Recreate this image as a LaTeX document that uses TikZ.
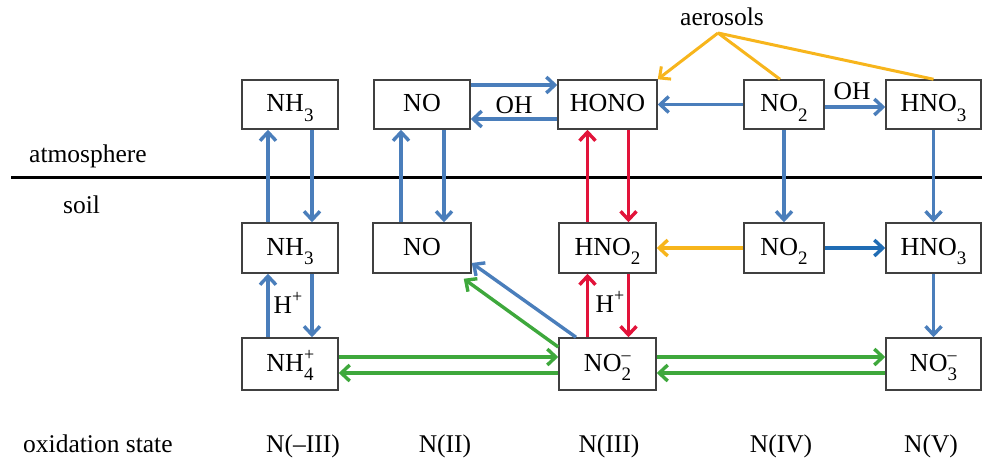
\documentclass[tikz,border=0pt]{standalone}
\usepackage{fontspec}
\setmainfont{Liberation Serif}
\usetikzlibrary{arrows.meta}

\definecolor{cblue}{HTML}{4A7EBB}
\definecolor{cdblue}{HTML}{1F6CB4}
\definecolor{cred}{HTML}{E2133A}
\definecolor{cgreen}{HTML}{3EA83C}
\definecolor{corange}{HTML}{F7B51C}
\definecolor{boxgray}{HTML}{404040}

% chemical sub- and superscripts
\newcommand\chsub[1]{\raisebox{-0.38em}{\fontsize{19}{19}\selectfont #1}}
\newcommand\chsup[1]{\raisebox{0.40em}{\fontsize{18}{18}\selectfont #1}}
\newcommand\chion[2]{\makebox[0pt][l]{\chsup{#1}}\chsub{#2}}

\tikzset{
  box/.style={draw=boxgray, line width=1.5pt, fill=white, inner sep=0pt,
    text height=17pt, text depth=3pt, font=\fontsize{26}{30}\selectfont},
  lbl/.style={inner sep=0pt, font=\fontsize{25.5}{30}\selectfont},
  tip/.style={-{Straight Barb[length=8.5pt,width=16pt]}},
  flow/.style={line width=3.4pt, tip},
  aline/.style={corange, line width=3pt},
}

\begin{document}
\begin{tikzpicture}[x=1pt,y=-1pt]
\useasboundingbox (0,0) rectangle (982,459);

% atmosphere / soil boundary
\coordinate (bl) at (11,177);
\coordinate (br) at (982,177);
\draw[line width=3pt] (bl) -- (br);
\node[lbl, anchor=base west] (atm) at (29,162) {atmosphere};
\node[lbl, anchor=base west] (soil) at (63,213) {soil};

% atmosphere species
\node[box, minimum width=96pt, minimum height=49pt] (a1) at (290,104.5) {NH\chsub{3}};
\node[box, minimum width=96pt, minimum height=49pt] (b1) at (422,104.5) {NO};
\node[box, minimum width=99pt, minimum height=49pt] (c1) at (607.5,104.5) {HONO};
\node[box, minimum width=80pt, minimum height=49pt] (d1) at (784,104.5) {NO\chsub{2}};
\node[box, minimum width=95pt, minimum height=49pt] (e1) at (933.5,104.5) {HNO\chsub{3}};

% soil species
\node[box, minimum width=96pt, minimum height=50pt] (a2) at (290,248) {NH\chsub{3}};
\node[box, minimum width=98pt, minimum height=50pt] (b2) at (422,248) {NO};
\node[box, minimum width=97pt, minimum height=50pt] (c2) at (607.5,248) {HNO\chsub{2}};
\node[box, minimum width=80pt, minimum height=50pt] (d2) at (784,248) {NO\chsub{2}};
\node[box, minimum width=95pt, minimum height=50pt] (e2) at (933.5,248) {HNO\chsub{3}};

\node[box, minimum width=96pt, minimum height=52pt] (a3) at (290,364) {NH\chion{+}{4}};
\node[box, minimum width=97pt, minimum height=52pt] (c3) at (607.5,364) {NO\chion{–}{2}};
\node[box, minimum width=95pt, minimum height=52pt] (e3) at (933.5,364) {NO\chion{–}{3}};

% aerosols
\node[lbl, anchor=base] (aerl) at (722,25) {aerosols};
\coordinate (aer) at (718,33);
\draw[aline, tip] (aer) -- (c1.north east);
\draw[aline] (aer) -- ([xshift=-4pt]d1.north);
\draw[aline] (aer) -- (e1.north);

% ammonia
\draw[flow, cblue] ([xshift=-22pt]a2.north) -- ([xshift=-22pt]a1.south);
\draw[flow, cblue] ([xshift=22pt]a1.south) -- ([xshift=22pt]a2.north);
\draw[flow, cblue] ([xshift=-22pt]a3.north) -- ([xshift=-22pt]a2.south);
\draw[flow, cblue] ([xshift=22pt]a2.south) -- ([xshift=22pt]a3.north);
\node[lbl] (hp1) at (288,303) {H\chsup{+}};

% nitric oxide
\draw[flow, cblue] ([xshift=-21pt]b2.north) -- ([xshift=-21pt]b1.south);
\draw[flow, cblue] ([xshift=22pt]b1.south) -- ([xshift=22pt]b2.north);
\draw[flow, cblue] ([yshift=19.5pt]b1.east) -- ([yshift=19.5pt]c1.west);
\draw[flow, cblue] ([yshift=-14.5pt]c1.west) -- ([yshift=-14.5pt]b1.east);
\node[lbl] (oh1) at (514,105) {OH};

% nitrous acid
\draw[flow, cred] ([xshift=-20pt]c2.north) -- ([xshift=-20pt]c1.south);
\draw[flow, cred] ([xshift=21pt]c1.south) -- ([xshift=21pt]c2.north);
\draw[flow, cred] ([xshift=-20pt]c3.north) -- ([xshift=-20pt]c2.south);
\draw[flow, cred] ([xshift=21pt]c2.south) -- ([xshift=21pt]c3.north);
\node[lbl] (hp2) at (610,302) {H\chsup{+}};

% nitrogen dioxide and nitric acid
\draw[flow, cblue] (d1.west) -- (c1.east);
\draw[flow, cblue] ([yshift=-2.5pt]d1.east) -- ([yshift=-2.5pt]e1.west);
\node[lbl] (oh2) at (852,91) {OH};
\draw[flow, cblue] (d1.south) -- (d2.north);
\draw[flow, cblue] (e1.south) -- (e2.north);
\draw[flow, cblue] (e2.south) -- (e3.north);
\draw[flow, corange] (d2.west) -- (c2.east);
\draw[flow, cdblue] (d2.east) -- (e2.west);

% soil nitrite turnover
\draw[flow, cgreen] ([yshift=7pt]a3.east) -- ([yshift=7pt]c3.west);
\draw[flow, cgreen] ([yshift=-9pt]c3.west) -- ([yshift=-9pt]a3.east);
\draw[flow, cgreen] ([yshift=7pt]c3.east) -- ([yshift=7pt]e3.west);
\draw[flow, cgreen] ([yshift=-9pt]e3.west) -- ([yshift=-9pt]c3.east);
\draw[flow, cblue] ([xshift=-31.5pt]c3.north) -- ([yshift=-15pt]b2.east);
\draw[flow, cgreen] ([yshift=17pt]c3.west) -- ([xshift=-8pt,yshift=-5pt]b2.south east);

% oxidation states
\node[lbl, anchor=base west] (ox) at (23,452) {oxidation state};
\node[lbl, anchor=base] (s1) at (303,452) {N(–III)};
\node[lbl, anchor=base] (s2) at (445,452) {N(II)};
\node[lbl, anchor=base] (s3) at (609,452) {N(III)};
\node[lbl, anchor=base] (s4) at (781,452) {N(IV)};
\node[lbl, anchor=base] (s5) at (931,452) {N(V)};
\end{tikzpicture}
\end{document}
